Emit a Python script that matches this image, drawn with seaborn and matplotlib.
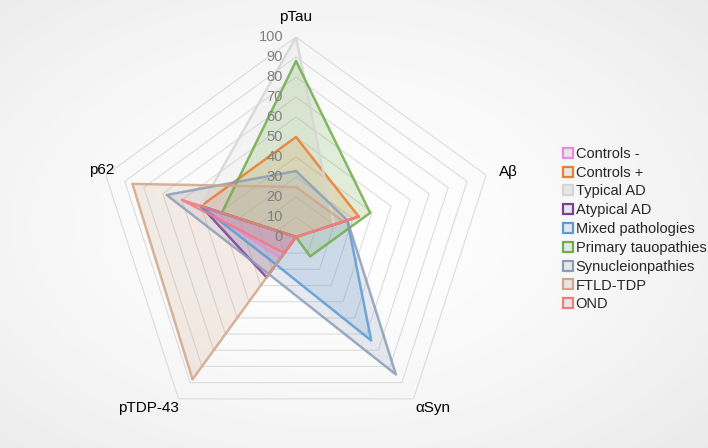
import numpy as np
import pandas as pd
import matplotlib
matplotlib.use('Agg')
import matplotlib.pyplot as plt
import matplotlib.transforms as mtransforms
from matplotlib.lines import Line2D
import seaborn as sns

# axes, clockwise from the top
markers = ['pTau', 'Aβ', 'αSyn', 'pTDP-43', 'p62']
groups = ['Controls -', 'Controls +', 'Typical AD', 'Atypical AD', 'Mixed pathologies',
          'Primary tauopathies', 'Synucleionpathies', 'FTLD-TDP', 'OND']

controls_neg = [0, 0, 0, 13, 50]
controls_pos = [50, 33, 0, 0, 50]
typical_ad = [100, 20, 0, 0, 50]
atypical_ad = [0, 0, 0, 25, 50]
mixed_path = [0, 27, 64, 17, 50]
primary_tau = [88, 39, 12, 0, 39]
synuclein = [33, 27, 85, 23, 68]
ftld_tdp = [25, 25, 0, 88, 86]
ond = [0, 33, 0, 10, 60]

ticks = [0, 10, 20, 30, 40, 50, 60, 70, 80, 90, 100]

colors = ['#E58AE6', '#ED7D31', '#D6D6D6', '#7E3F98', '#5B9BD5',
          '#70AD47', '#8C9DB8', '#D2A68A', '#F47A7E']

values = [controls_neg, controls_pos, typical_ad, atypical_ad, mixed_path,
          primary_tau, synuclein, ftld_tdp, ond]

rows = []
for g, vals in zip(groups, values):
    for i, v in enumerate(vals + [vals[0]]):
        rows.append({'group': g, 'order': i, 'theta': 2 * np.pi * i / 5, 'value': v})
df = pd.DataFrame(rows)

sns.set_style('white')
plt.rcParams['font.family'] = ['Liberation Sans', 'DejaVu Sans']

fig = plt.figure(figsize=(7.08, 4.48), dpi=100)

# soft radial background
bg = fig.add_axes([0, 0, 1, 1])
yy, xx = np.mgrid[0:448, 0:708]
d = np.sqrt(((xx - 330) / 520.0) ** 2 + ((yy - 224) / 330.0) ** 2)
shade = 1 - 0.085 * np.clip(d, 0, 1.2) ** 1.6
bg.imshow(np.dstack([shade, shade, shade]), aspect='auto', extent=[0, 1, 0, 1])
bg.axis('off')

ax = fig.add_axes([96 / 708, 11 / 448, 400 / 708, 400 / 448], projection='polar')
ax.set_theta_offset(np.pi / 2)
ax.set_theta_direction(-1)
ax.patch.set_alpha(0)
ax.grid(False)
ax.spines['polar'].set_visible(False)

# pentagon grid
angles = np.linspace(0, 2 * np.pi, 6)
for r in ticks[1:]:
    ax.plot(angles, [r] * 6, color='#DCDCDC', lw=0.8, zorder=1)

# series
for g, c in zip(groups, colors):
    sub = df[df.group == g]
    ax.fill(sub.theta, sub.value, color=c, alpha=0.2, lw=0, zorder=2)
    sns.lineplot(data=sub, x='theta', y='value', sort=False, color=c, lw=1.8,
                 alpha=0.85, ax=ax, legend=False, zorder=3)
ax.set_xlabel('')
ax.set_ylabel('')
ax.set_ylim(0, 100)
ax.set_xticks([])
ax.set_yticks([])

# radial tick labels along pTau axis
off = mtransforms.offset_copy(ax.transData, fig=fig, x=-13, y=0, units='dots')
for r in ticks:
    ax.text(0, r, str(r), transform=off, ha='right', va='center',
            fontsize=10.5, color='#7F7F7F', zorder=4)

# category labels (angle in degrees clockwise from top, radius)
label_pos = [(0, 110), (73, 111), (141.3, 109.6), (220.9, 113), (289.1, 102.6)]
for m, (a, lr) in zip(markers, label_pos):
    ax.text(np.deg2rad(a), lr, m, ha='center', va='center', fontsize=11,
            color='#000000', clip_on=False)

handles = [Line2D([], [], marker='s', ls='', markersize=7, markeredgewidth=1.6,
                  markeredgecolor=c, markerfacecolor='#E6E6E6') for c in colors]
fig.legend(handles, groups, loc='upper left', bbox_to_anchor=(558 / 708, 1 - 141 / 448),
           frameon=False, fontsize=10.5, handlelength=0.6, handletextpad=0.2,
           labelspacing=0.33, borderaxespad=0)

fig.savefig('out.png', dpi=100)
